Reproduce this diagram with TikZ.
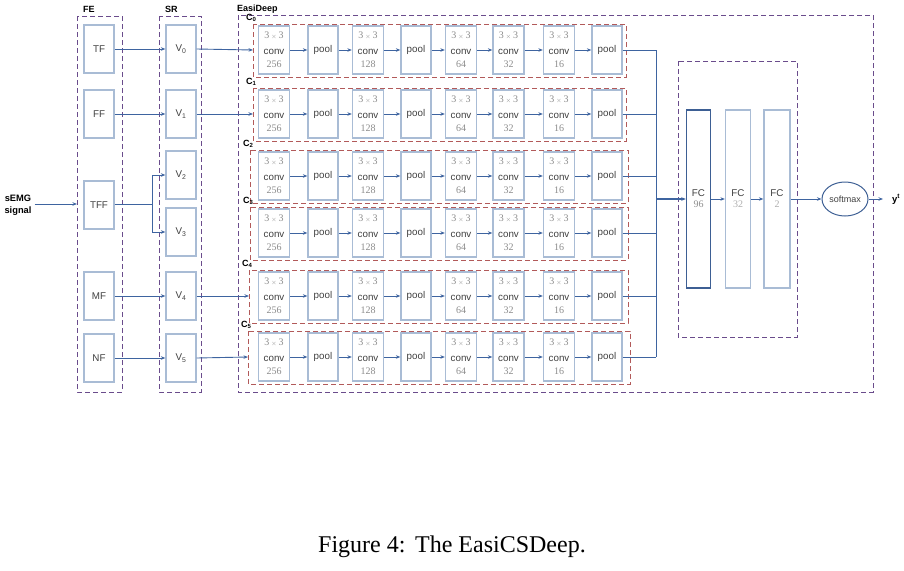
\documentclass[tikz,border=0pt]{standalone}
\usepackage{fontspec}
\setmainfont{Liberation Serif}
\setsansfont{Liberation Sans}
\usetikzlibrary{arrows.meta,shapes.geometric}
\definecolor{boxc}{HTML}{A9BCD5}
\definecolor{darkbox}{HTML}{3D5F94}
\definecolor{arrc}{HTML}{3E64A0}
\definecolor{purp}{HTML}{6A4C8C}
\definecolor{redd}{HTML}{B25A5A}
\definecolor{numgrey}{HTML}{8C8C8C}
\definecolor{txt}{HTML}{404040}
\tikzset{
  blk/.style={draw=boxc, line width=1.3pt, fill=white, inner sep=0pt},
  grp/.style={draw=purp, dash pattern=on 5pt off 3pt, line width=1pt},
  crow/.style={draw=redd, dash pattern=on 5pt off 3pt, line width=0.95pt},
  arr/.style={draw=arrc, line width=0.9pt, -{Stealth[length=4.5pt,width=3.5pt]}},
  ln/.style={draw=arrc, line width=0.9pt},
  lbl/.style={font=\sffamily\bfseries\fontsize{9}{10}\selectfont, text=black, inner sep=0pt},
  btxt/.style={font=\sffamily\fontsize{9.8}{11}\selectfont, text=txt},
  convbox/.style={blk, minimum width=31pt, minimum height=48pt, align=center, font=\fontsize{10}{11}\selectfont},
}
\newcommand{\convtxt}[1]{{\rmfamily\color{numgrey}3\,{\fontsize{6.5}{7}\selectfont$\times$}\,3}\\[5pt]{\sffamily\color{txt}\fontsize{9.8}{11}\selectfont conv}\\[2pt]{\rmfamily\color{numgrey}#1}}
\begin{document}
\begin{tikzpicture}[x=1pt,y=-1pt]
\useasboundingbox (0,0) rectangle (904,570);
% group boxes
\draw[grp] (77,16) rectangle (122,392);
\draw[grp] (159,16) rectangle (201,392);
\draw[grp] (238,15) rectangle (873,392);
\node[lbl, anchor=west] at (83,9) {FE};
\node[lbl, anchor=west] at (165,9) {SR};
\node[lbl, anchor=west] at (237,9) {EasiDeep};
% sEMG
\node[lbl, align=center, font=\sffamily\bfseries\fontsize{9.3}{12.5}\selectfont] (sig) at (18,205) {sEMG\\signal};
\coordinate (feIn) at (77,204);
% FE nodes
\foreach \n/\t/\yc in {TF/TF/49, FF/FF/114, TFF/TFF/205, MF/MF/296, NF/NF/358}{
  \node[blk, btxt, minimum width=30pt, minimum height=48pt] (\n) at (99,\yc) {\t};
}
% SR nodes
\foreach \i/\yc in {0/49, 1/114, 2/175, 3/232, 4/296, 5/358}{
  \node[blk, btxt, minimum width=30pt, minimum height=48pt] (V\i) at (181,\yc) {V\textsubscript{\i}};
}
\draw[arr] (sig.east |- feIn) ++(3,0) -- (feIn);
\draw[arr] (TF) -- (V0);
\draw[arr] (FF) -- (V1);
\draw[arr] (MF) -- (V4);
\draw[arr] (NF) -- (V5);
\coordinate (split) at (152,204);
\draw[ln] (TFF.east |- split) -- (split);
\draw[arr] (split) |- (V2.west);
\draw[arr] (split) |- (V3.west);
% C rows
\coordinate (bus) at (656,0);
\foreach \r/\yc/\xl/\xr in {0/50/253/626, 1/114/253/626, 2/176/250/628, 3/233/250/628, 4/296/249/628, 5/357/248/630}{
  \draw[crow] (\xl,\yc-26) rectangle (\xr,\yc+27);
  \node[lbl, anchor=west] at (\xl-7,\yc-32) {C\textsubscript{\r}};
  \node[convbox] (a\r) at (274,\yc) {\convtxt{256}};
  \node[blk, btxt, minimum width=30pt, minimum height=48pt] (b\r) at (323,\yc) {pool};
  \node[convbox] (c\r) at (368,\yc) {\convtxt{128}};
  \node[blk, btxt, minimum width=30pt, minimum height=48pt] (d\r) at (416,\yc) {pool};
  \node[convbox] (e\r) at (461,\yc) {\convtxt{64}};
  \node[convbox] (f\r) at (508.5,\yc) {\convtxt{32}};
  \node[convbox] (g\r) at (559,\yc) {\convtxt{16}};
  \node[blk, btxt, minimum width=30pt, minimum height=48pt] (h\r) at (607,\yc) {pool};
  \draw[arr] (a\r) -- (b\r);
  \draw[arr] (b\r) -- (c\r);
  \draw[arr] (c\r) -- (d\r);
  \draw[arr] (d\r) -- (e\r);
  \draw[arr] (e\r) -- (f\r);
  \draw[arr] (f\r) -- (g\r);
  \draw[arr] (g\r) -- (h\r);
  \draw[ln] (h\r.east) -- (h\r.east -| bus);
}
\draw[arr] (V0.east) -- (a0.west -| 253,0);
\draw[arr] (V1.east) -- (a1.west -| 253,0);
\draw[arr] (V4.east) -- (a4.west -| 249,0);
\draw[arr] (V5.east) -- (a5.west -| 248,0);
\draw[ln] (h0.east -| bus) -- (h5.east -| bus);
% FC part
\draw[grp] (678,61) rectangle (797,337);
\node[draw=darkbox, line width=1.4pt, minimum width=24pt, minimum height=178pt, inner sep=0pt, align=center] (fc1) at (698.5,199) {{\sffamily\color{txt}\fontsize{9.8}{11}\selectfont FC}\\[-1pt]{\rmfamily\color{numgrey}\fontsize{10}{11}\selectfont 96}};
\node[blk, minimum width=25pt, minimum height=178pt, align=center] (fc2) at (738,199) {{\sffamily\color{txt}\fontsize{9.8}{11}\selectfont FC}\\[-1pt]{\rmfamily\color{numgrey!70}\fontsize{10}{11}\selectfont 32}};
\node[blk, minimum width=26pt, minimum height=178pt, align=center] (fc3) at (777,199) {{\sffamily\color{txt}\fontsize{9.8}{11}\selectfont FC}\\[-1pt]{\rmfamily\color{numgrey!70}\fontsize{10}{11}\selectfont 2}};
\node[draw=darkbox, line width=1pt, ellipse, minimum width=46pt, minimum height=34pt, inner sep=0pt, text=txt, font=\sffamily\fontsize{9}{10}\selectfont] (sm) at (845,199) {softmax};
\coordinate (fcin) at (656,199);
\draw[arr, line width=1.6pt] (fcin) -- (fc1.west);
\draw[arr] (fc1) -- (fc2);
\draw[arr] (fc2) -- (fc3);
\draw[arr] (fc3) -- (sm);
\coordinate (yout) at (883,199);
\draw[arr] (sm) -- (yout);
\node[lbl, anchor=west, font=\sffamily\bfseries\fontsize{9.5}{11}\selectfont] (yt) at (892,199) {y\textsuperscript{t}};
% caption
\node[font=\rmfamily\fontsize{24}{28}\selectfont] (cap) at (452,547) {Figure 4:\hspace{0.4em}The EasiCSDeep.};
\end{tikzpicture}
\end{document}
